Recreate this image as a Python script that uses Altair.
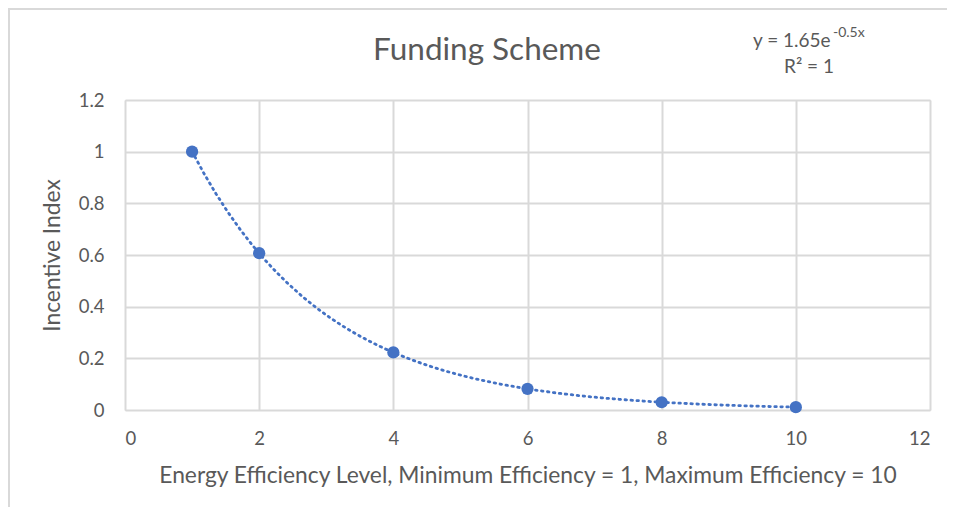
import altair as alt
import pandas as pd

# Data
levels = [1, 2, 4, 6, 8, 10]
incentive = [1.0, 0.607, 0.223, 0.082, 0.030, 0.011]

x_ticks = [0, 2, 4, 6, 8, 10, 12]
y_ticks = [0, 0.2, 0.4, 0.6, 0.8, 1.0, 1.2]

title_text = "Funding Scheme"
x_title = "Energy Efficiency Level, Minimum Efficiency = 1, Maximum Efficiency = 10"
y_title = "Incentive Index"
eq_main = "y = 1.65e"
eq_sup = "-0.5x"
r2_text = "R\u00b2 = 1"

df = pd.DataFrame({"level": levels, "incentive": incentive})

FONT = "Lato"
TXT = "#595959"
BLUE = "#4472C4"
GRID = "#d9d9d9"

xscale = alt.Scale(domain=[0, 12], nice=False, zero=False)
yscale = alt.Scale(domain=[0, 1.2], nice=False)

base = alt.Chart(df)

trend = base.transform_regression(
    "level", "incentive", method="exp", extent=[1, 10]
).mark_line(color=BLUE, strokeWidth=2.8, strokeDash=[1.5, 4.5], strokeCap="round").encode(
    x=alt.X("level:Q", scale=xscale,
            axis=alt.Axis(values=x_ticks, format="~g", title=x_title, grid=True, domain=False,
                          ticks=False, tickSize=0, labelPadding=19, labelFontSize=18.5,
                          labelColor=TXT, labelFont=FONT, titleFont=FONT, titleFontSize=22.8,
                          titleColor=TXT, titleFontWeight="normal", titleY=72,
                          titleBaseline="alphabetic", gridColor=GRID, gridWidth=2)),
    y=alt.Y("incentive:Q", scale=yscale,
            axis=alt.Axis(values=y_ticks, format="~g", title=y_title, grid=True, domain=False,
                          ticks=False, tickSize=0, labelPadding=21, labelFontSize=18.5,
                          labelColor=TXT, labelFont=FONT, titleFont=FONT, titleFontSize=22.8,
                          titleColor=TXT, titleFontWeight="normal", titleX=-73, titleY=155,
                          titleAlign="center", titleBaseline="middle", titleAngle=-90,
                          gridColor=GRID, gridWidth=2)),
)

points = base.mark_circle(color=BLUE, size=150, opacity=1).encode(
    x=alt.X("level:Q", scale=xscale),
    y=alt.Y("incentive:Q", scale=yscale),
)

def txt(text, x, y, size, align="left"):
    return alt.Chart(pd.DataFrame({"t": [text]})).mark_text(
        font=FONT, fontSize=size, color=TXT, align=align, baseline="alphabetic"
    ).encode(x=alt.value(x), y=alt.value(y), text="t:N")

title = txt(title_text, 362, -40, 31.5, "center")
eq1 = txt(eq_main, 628, -53, 19)
eq2 = txt(eq_sup, 708, -63, 14)
r2 = txt(r2_text, 684, -27, 19, "center")

border_v = alt.Chart(pd.DataFrame({"a": [0]})).mark_rule(color=GRID, strokeWidth=2).encode(
    x=alt.value(-116), y=alt.value(-92), y2=alt.value(420))
border_h = alt.Chart(pd.DataFrame({"a": [0]})).mark_rule(color=GRID, strokeWidth=2).encode(
    y=alt.value(-91), x=alt.value(-117), x2=alt.value(900))

chart = alt.layer(border_v, border_h, trend, points, title, eq1, eq2, r2).properties(
    width=805, height=310,
    autosize=alt.AutoSizeParams(type="none"),
    padding={"left": 117, "top": 92, "right": 17, "bottom": 97},
).configure_view(stroke=None).configure(background="white")

chart.save("out.html", embed_options={"renderer": "svg", "actions": False})
